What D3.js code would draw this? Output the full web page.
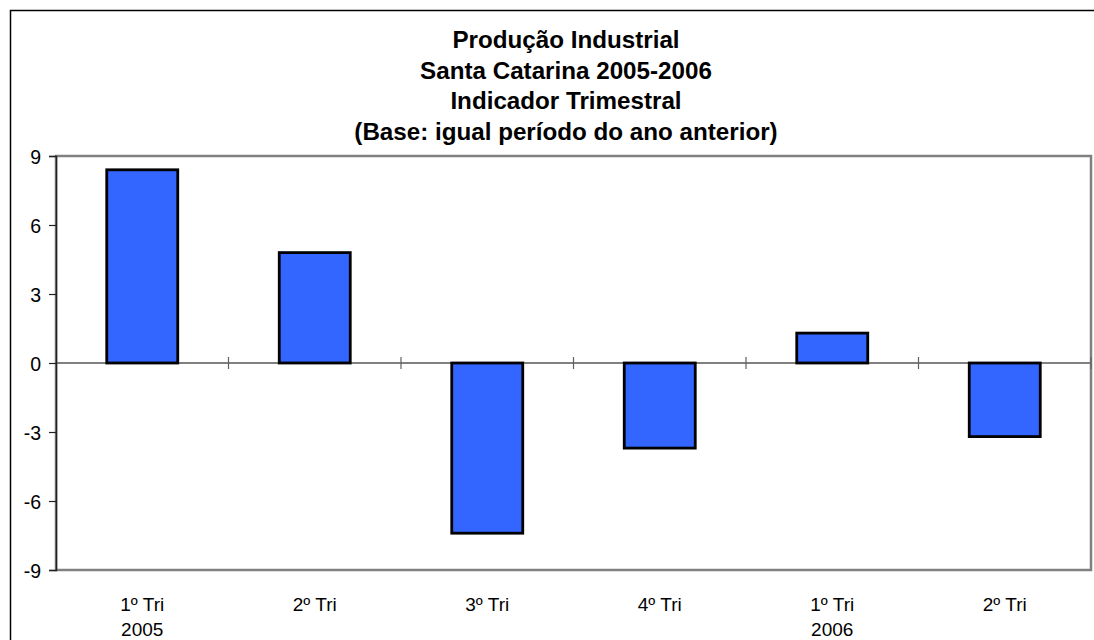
<!DOCTYPE html>
<html><head><meta charset="utf-8">
<script src="https://cdn.jsdelivr.net/npm/d3@7"></script>
<style>body{margin:0;background:#fff}svg{display:block}text{font-family:"Liberation Sans",Arial,sans-serif}</style>
</head><body>
<script>
const titleLines = ["Produção Industrial","Santa Catarina 2005-2006","Indicador Trimestral","(Base: igual período do ano anterior)"];
const categories = ["1º Tri|2005","2º Tri","3º Tri","4º Tri","1º Tri|2006","2º Tri"];
const values = [8.4, 4.8, -7.4, -3.7, 1.3, -3.2];
const yTicks = [-9,-6,-3,0,3,6,9];

const W=1094,H=640;
const svg=d3.select("body").append("svg").attr("width",W).attr("height",H);
svg.append("rect").attr("x",10.5).attr("y",10.5).attr("width",1200).attr("height",800).attr("fill","none").attr("stroke","#000").attr("stroke-width",1.5);

const L=56,R=1091,T=156,B=570;
const x=d3.scaleBand().domain(categories.map((c,i)=>i)).range([L,R]).paddingInner(0).paddingOuter(0);
const y=d3.scaleLinear().domain([-9,9]).range([B,T]);

// plot border
svg.append("rect").attr("x",L).attr("y",T).attr("width",R-L).attr("height",B-T).attr("fill","none").attr("stroke","#808080").attr("stroke-width",2.5);

// title
svg.append("g").selectAll("text").data(titleLines).join("text")
  .attr("x",566).attr("y",(d,i)=>48+i*30.5).attr("text-anchor","middle")
  .attr("font-size",24.2).attr("font-weight","bold").attr("fill","#000").text(d=>d);

// zero line with ticks
svg.append("line").attr("x1",L).attr("x2",R).attr("y1",y(0)).attr("y2",y(0)).attr("stroke","#808080").attr("stroke-width",2);
const bounds=d3.range(1,categories.length+1).map(i=>i===categories.length?R:x(i));
svg.append("g").selectAll("line").data(bounds).join("line")
  .attr("x1",d=>d).attr("x2",d=>d).attr("y1",y(0)-6).attr("y2",y(0)+6).attr("stroke","#606060").attr("stroke-width",1.2);

// bars
const bw=71;
svg.append("g").selectAll("rect").data(values).join("rect")
  .attr("x",(d,i)=>x(i)+x.bandwidth()/2-bw/2).attr("width",bw)
  .attr("y",d=>y(Math.max(0,d))).attr("height",d=>Math.abs(y(d)-y(0)))
  .attr("fill","#3366FF").attr("stroke","#000").attr("stroke-width",2.8);

// y axis
const yAxis=d3.axisLeft(y).tickValues(yTicks).tickSize(7).tickPadding(8).tickFormat(d=>String(d));
const ga=svg.append("g").attr("transform",`translate(${L},0)`).call(yAxis);
ga.select(".domain").attr("stroke","#222").attr("stroke-width",1.5);
ga.selectAll(".tick line").attr("stroke","#222").attr("stroke-width",1.2);
ga.selectAll(".tick text").attr("font-size",19.5).attr("fill","#000").attr("font-family","Liberation Sans, Arial, sans-serif").attr("dy","0.4em");

// x labels
const xl=svg.append("g").selectAll("text").data(categories).join("text")
  .attr("text-anchor","middle").attr("font-size",19).attr("fill","#000");
xl.each(function(d,i){
  const parts=d.split("|");
  const t=d3.select(this);
  parts.forEach((p,j)=>t.append("tspan").attr("x",x(i)+x.bandwidth()/2).attr("y",611+j*25).text(p));
});
</script>
</body></html>
